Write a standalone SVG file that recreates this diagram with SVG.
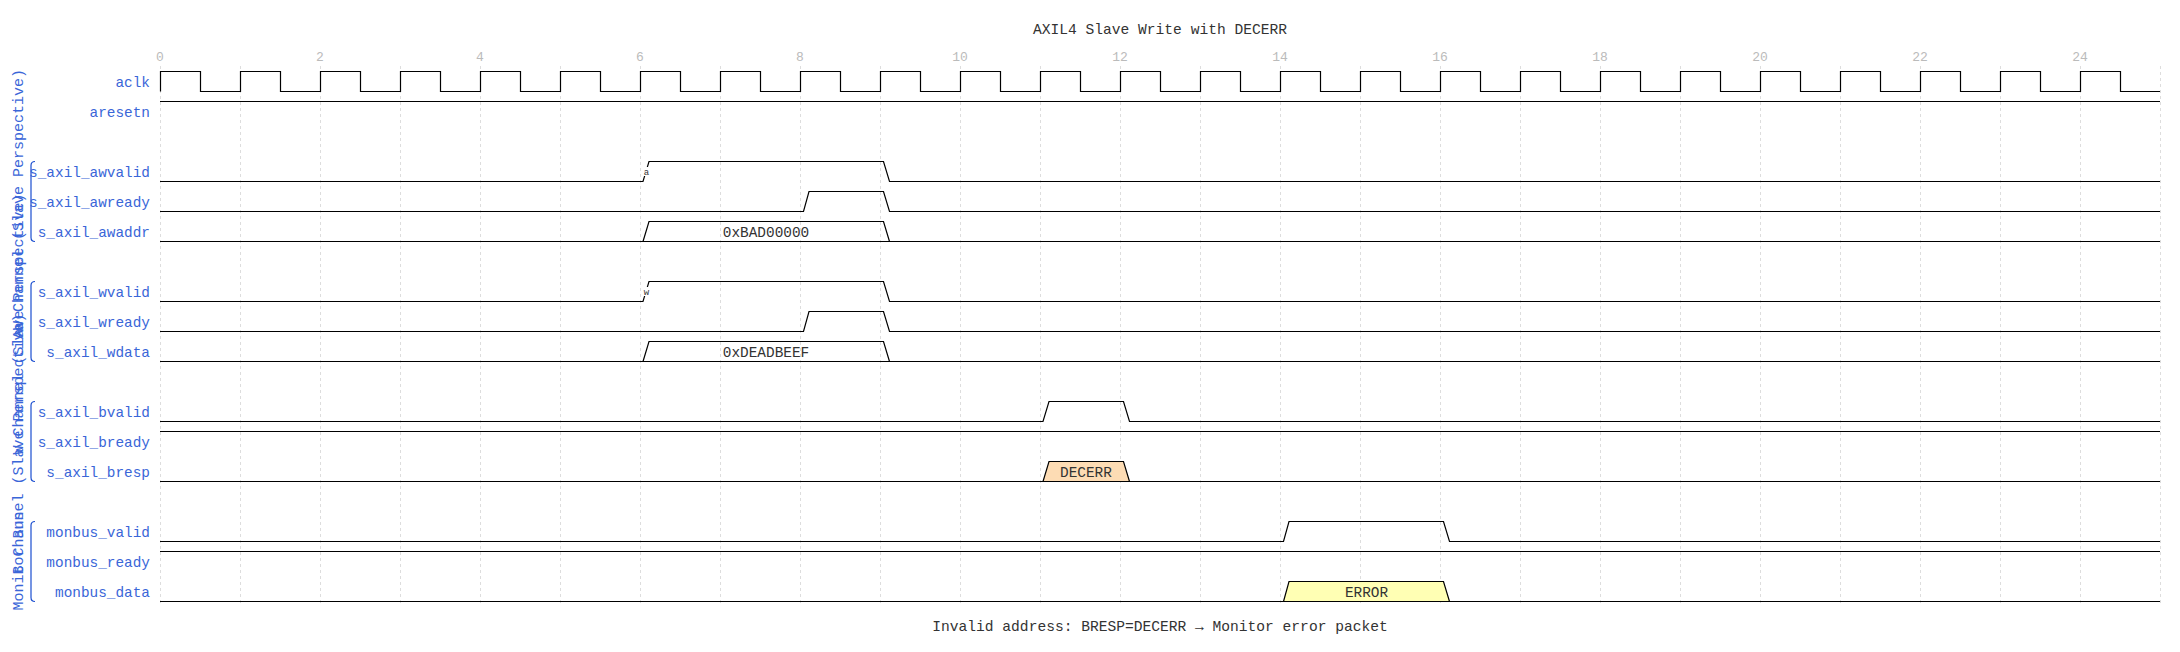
<svg xmlns="http://www.w3.org/2000/svg" width="2180" height="652" viewBox="0 0 2180 652">
<style>
text{font-family:"Liberation Mono","DejaVu Sans Mono",monospace}
.title{font-size:14.6px;fill:#333;text-anchor:middle}
.tick{font-size:13px;fill:#bbb;text-anchor:middle}
.lbl{font-size:14.4px;fill:#3a66d8;text-anchor:end}
.grp{font-size:15px;fill:#3a66d8;text-anchor:middle}
.dat{font-size:14.4px;fill:#333;text-anchor:middle}
.node{font-size:9px;fill:#333;text-anchor:middle}
.grid{stroke:#ddd;stroke-width:1;stroke-dasharray:3,3}
.w{fill:none;stroke:#000;stroke-width:1.2}
.br{fill:none;stroke:#1c4fd0;stroke-width:1.2}
</style>
<rect width="2180" height="652" fill="#fff"/>
<text class="title" x="1160" y="34">AXIL4 Slave Write with DECERR</text>
<g id="grid">
<path class="grid" d="M160.5,66V604M240.5,66V604M320.5,66V604M400.5,66V604M480.5,66V604M560.5,66V604M640.5,66V604M720.5,66V604M800.5,66V604M880.5,66V604M960.5,66V604M1040.5,66V604M1120.5,66V604M1200.5,66V604M1280.5,66V604M1360.5,66V604M1440.5,66V604M1520.5,66V604M1600.5,66V604M1680.5,66V604M1760.5,66V604M1840.5,66V604M1920.5,66V604M2000.5,66V604M2080.5,66V604M2160.5,66V604"/>
</g>
<g id="ticks">
<text class="tick" x="160" y="61">0</text><text class="tick" x="320" y="61">2</text><text class="tick" x="480" y="61">4</text><text class="tick" x="640" y="61">6</text><text class="tick" x="800" y="61">8</text><text class="tick" x="960" y="61">10</text><text class="tick" x="1120" y="61">12</text><text class="tick" x="1280" y="61">14</text><text class="tick" x="1440" y="61">16</text><text class="tick" x="1600" y="61">18</text><text class="tick" x="1760" y="61">20</text><text class="tick" x="1920" y="61">22</text><text class="tick" x="2080" y="61">24</text>
</g>
<g id="groups">
<g id="grp-aw"><path class="br" d="M35,161.5Q31,161.5 31,165.5V237.5Q31,241.5 35,241.5"/><text class="grp" transform="translate(23,204) rotate(-90)">AW Channel (Slave Perspective)</text></g>
<g id="grp-w"><path class="br" d="M35,281.5Q31,281.5 31,285.5V357.5Q31,361.5 35,361.5"/><text class="grp" transform="translate(23,324) rotate(-90)">W Channel (Slave Perspective)</text></g>
<g id="grp-b"><path class="br" d="M35,401.5Q31,401.5 31,405.5V477.5Q31,481.5 35,481.5"/><text class="grp" transform="translate(23,444) rotate(-90)">B Channel (Slave Perspective)</text></g>
<g id="grp-mon"><path class="br" d="M35,521.5Q31,521.5 31,525.5V597.5Q31,601.5 35,601.5"/><text class="grp" transform="translate(23,561) rotate(-90)">Monitor Bus</text></g>
</g>
<g id="aclk"><text class="lbl" x="150" y="87">aclk</text>
<path class="w" d="M160.5,91.5V71.5H200.5V91.5H240.5V71.5H280.5V91.5H320.5V71.5H360.5V91.5H400.5V71.5H440.5V91.5H480.5V71.5H520.5V91.5H560.5V71.5H600.5V91.5H640.5V71.5H680.5V91.5H720.5V71.5H760.5V91.5H800.5V71.5H840.5V91.5H880.5V71.5H920.5V91.5H960.5V71.5H1000.5V91.5H1040.5V71.5H1080.5V91.5H1120.5V71.5H1160.5V91.5H1200.5V71.5H1240.5V91.5H1280.5V71.5H1320.5V91.5H1360.5V71.5H1400.5V91.5H1440.5V71.5H1480.5V91.5H1520.5V71.5H1560.5V91.5H1600.5V71.5H1640.5V91.5H1680.5V71.5H1720.5V91.5H1760.5V71.5H1800.5V91.5H1840.5V71.5H1880.5V91.5H1920.5V71.5H1960.5V91.5H2000.5V71.5H2040.5V91.5H2080.5V71.5H2120.5V91.5H2160"/></g>
<g id="aresetn"><text class="lbl" x="150" y="117">aresetn</text><path class="w" d="M160,101.5H2160"/></g>
<g id="s_axil_awvalid"><text class="lbl" x="150" y="177">s_axil_awvalid</text>
<path class="w" d="M160,181.5H643L649,161.5H883.5L889.5,181.5H2160"/>
<rect x="643" y="167" width="7" height="9" fill="#fff"/><text class="node" x="646.5" y="175">a</text></g>
<g id="s_axil_awready"><text class="lbl" x="150" y="207">s_axil_awready</text>
<path class="w" d="M160,211.5H803.5L809,191.5H883.5L889.5,211.5H2160"/></g>
<g id="s_axil_awaddr"><text class="lbl" x="150" y="237">s_axil_awaddr</text>
<path class="w" d="M160,241.5H2160M643,241.5L649,221.5H883.5L889.5,241.5"/>
<text class="dat" x="766" y="237">0xBAD00000</text></g>
<g id="s_axil_wvalid"><text class="lbl" x="150" y="297">s_axil_wvalid</text>
<path class="w" d="M160,301.5H643L649,281.5H883.5L889.5,301.5H2160"/>
<rect x="643" y="287" width="7" height="9" fill="#fff"/><text class="node" x="646.5" y="295">w</text></g>
<g id="s_axil_wready"><text class="lbl" x="150" y="327">s_axil_wready</text>
<path class="w" d="M160,331.5H803.5L809,311.5H883.5L889.5,331.5H2160"/></g>
<g id="s_axil_wdata"><text class="lbl" x="150" y="357">s_axil_wdata</text>
<path class="w" d="M160,361.5H2160M643,361.5L649,341.5H883.5L889.5,361.5"/>
<text class="dat" x="766" y="357">0xDEADBEEF</text></g>
<g id="s_axil_bvalid"><text class="lbl" x="150" y="417">s_axil_bvalid</text>
<path class="w" d="M160,421.5H1043L1049,401.5H1123.5L1129.5,421.5H2160"/></g>
<g id="s_axil_bready"><text class="lbl" x="150" y="447">s_axil_bready</text><path class="w" d="M160,431.5H2160"/></g>
<g id="s_axil_bresp"><text class="lbl" x="150" y="477">s_axil_bresp</text>
<path d="M1043,481.5L1049,461.5H1123.5L1129.5,481.5Z" fill="#fddcb4"/>
<path class="w" d="M160,481.5H2160M1043,481.5L1049,461.5H1123.5L1129.5,481.5"/>
<text class="dat" x="1086" y="477">DECERR</text></g>
<g id="monbus_valid"><text class="lbl" x="150" y="537">monbus_valid</text>
<path class="w" d="M160,541.5H1283.5L1289,521.5H1443.5L1449.5,541.5H2160"/></g>
<g id="monbus_ready"><text class="lbl" x="150" y="567">monbus_ready</text><path class="w" d="M160,551.5H2160"/></g>
<g id="monbus_data"><text class="lbl" x="150" y="597">monbus_data</text>
<path d="M1283.5,601.5L1289,581.5H1443.5L1449.5,601.5Z" fill="#ffffb4"/>
<path class="w" d="M160,601.5H2160M1283.5,601.5L1289,581.5H1443.5L1449.5,601.5"/>
<text class="dat" x="1366.5" y="597">ERROR</text></g>
<text class="title" x="1160" y="631">Invalid address: BRESP=DECERR → Monitor error packet</text>
</svg>
